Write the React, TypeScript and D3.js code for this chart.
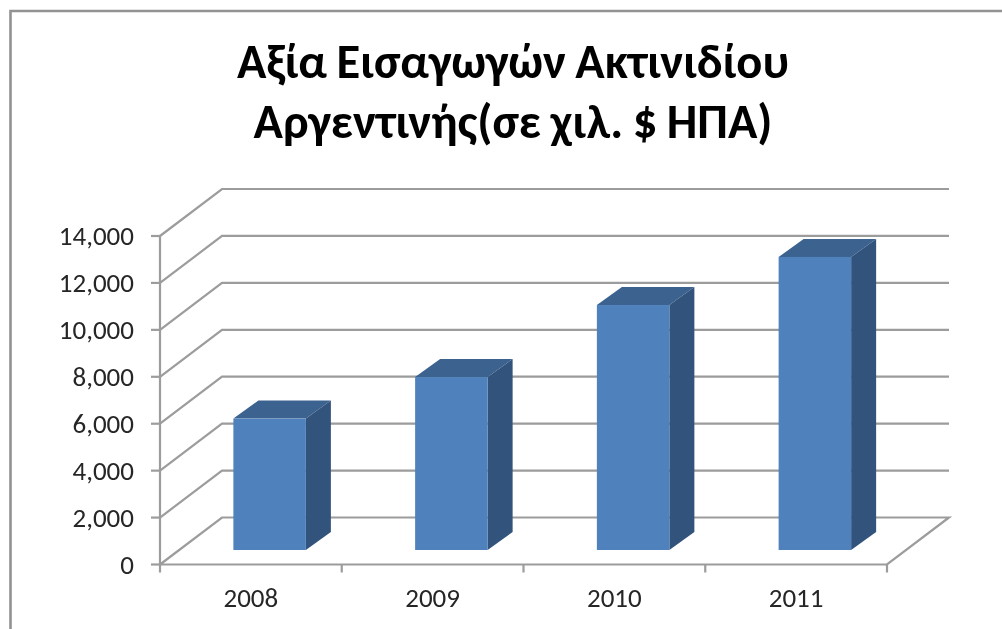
import React from "react";
import * as d3 from "d3";

const years = ["2008", "2009", "2010", "2011"];
const values = [5600, 7370, 10440, 12490];
const ticks = [0, 2000, 4000, 6000, 8000, 10000, 12000, 14000];
const titleLines = ["Αξία Εισαγωγών Ακτινιδίου", "Αργεντινής(σε χιλ. $ ΗΠΑ)"];

const W = 1002, H = 629;
const left = 160, right = 887, y0 = 564.5, yTop = 236;
const dx = 62, dy = -47;
const barFrontY = 550;
const depthX = 25, depthY = -18;
const barShift = 18.75;
const bw = 72.5;

export default function App() {
  const y = d3.scaleLinear().domain([0, 14000]).range([y0, yTop]);
  const x = d3.scaleBand().domain(years).range([left, right]);
  const hgt = (v: number) => y0 - y(v);
  const fmt = d3.format(",");
  const gray = "#9c9c9c";
  const font = "Carlito, Calibri, 'Open Sans', sans-serif";
  return (
    <svg width={W} height={H} style={{ position: "absolute", left: 0, top: 0, background: "#fff" }} fontFamily={font}>
      <g style={{ filter: "blur(0.5px)" }}>
        <path d={`M10.5 ${H}V11H${W}`} stroke="#929292" strokeWidth={2.6} fill="none" />
        {titleLines.map((t, i) => (
          <text key={t} x={513} y={78 + i * 60} textAnchor="middle" fontSize={48.5} fontWeight={700} wordSpacing={-1.5} fill="#000">{t}</text>
        ))}
        {ticks.map((t) => (
          <g key={t}>
            <path
              d={t === 0
                ? `M${left} ${y(t)}L${left + dx} ${y(t) + dy}H${right + dx}L${right} ${y(t)}H${left}`
                : `M${left} ${y(t)}L${left + dx} ${y(t) + dy}H${right + dx}`}
              stroke={gray} strokeWidth={2.2} fill="none" />
            <path d={`M${left - 9} ${y(t)}H${left}`} stroke={gray} strokeWidth={2.2} />
            <text x={134} y={y(t) + 9} textAnchor="end" fontSize={27} fill="#262626">{fmt(t)}</text>
          </g>
        ))}
        <path d={`M${left} ${yTop}V${y0 + 8}`} stroke={gray} strokeWidth={2.2} fill="none" />
        {years.map((yr) => {
          const px = (x(yr) as number) + x.bandwidth();
          return <path key={yr} d={`M${px} ${y0}V${y0 + 8}`} stroke={gray} strokeWidth={2.2} />;
        })}
        {years.map((yr, i) => {
          const cx = (x(yr) as number) + x.bandwidth() / 2;
          const bx = cx + barShift - bw / 2;
          const top = barFrontY - hgt(values[i]);
          return (
            <g key={yr}>
              <path d={`M${bx} ${top}l${depthX} ${depthY}h${bw}l${-depthX} ${-depthY}z`} fill="#3c628f" />
              <path d={`M${bx + bw} ${top}l${depthX} ${depthY}V${barFrontY + depthY}l${-depthX} ${-depthY}z`} fill="#32537c" />
              <rect x={bx} y={top} width={bw} height={barFrontY - top} fill="#4f81bd" />
              <text x={cx} y={607} textAnchor="middle" fontSize={27} fill="#262626">{yr}</text>
            </g>
          );
        })}
      </g>
    </svg>
  );
}
